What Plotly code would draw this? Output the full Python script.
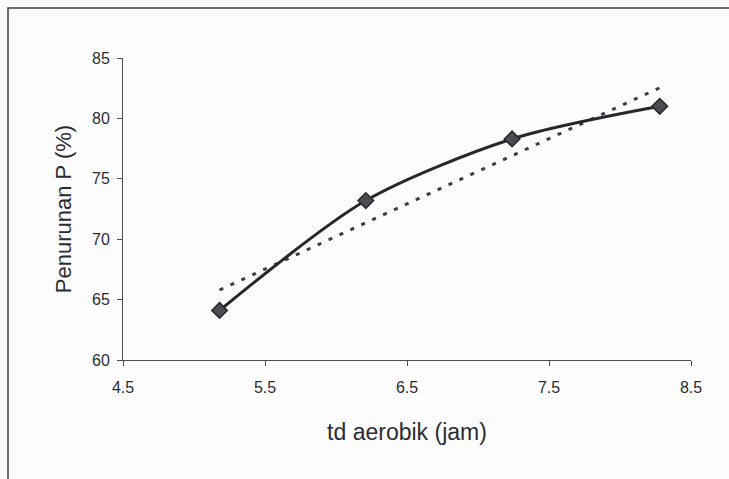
import numpy as np
import plotly.graph_objects as go

# Aerobic detention time (hours) vs phosphorus removal (%)
td_aerobik = [5.18, 6.21, 7.24, 8.28]
penurunan_p = [64.1, 73.2, 78.3, 81.0]

x_ticks = [4.5, 5.5, 6.5, 7.5, 8.5]
y_ticks = [60, 65, 70, 75, 80, 85]

# Linear trend through the measured points
slope, intercept = np.polyfit(td_aerobik, penurunan_p, 1)
trend_x = [td_aerobik[0], td_aerobik[-1]]
trend_y = [slope * v + intercept for v in trend_x]

fig = go.Figure()
fig.add_trace(go.Scatter(
    x=trend_x, y=trend_y, mode="lines",
    line=dict(color="#3a3d48", width=3, dash="4px,8px"),
    hoverinfo="skip", showlegend=False,
))
fig.add_trace(go.Scatter(
    x=td_aerobik, y=penurunan_p, mode="lines+markers",
    line=dict(color="#26282e", width=3, shape="spline", smoothing=0.8),
    marker=dict(symbol="diamond", size=12, color="#4a4c52",
                line=dict(color="#26282e", width=1.5)),
    showlegend=False,
))

text_color = "#2a2c34"
axis_font = dict(family="Liberation Sans, Arial, sans-serif", size=16, color=text_color)

fig.update_layout(
    width=729, height=479,
    margin=dict(l=123, r=38, t=58, b=119),
    paper_bgcolor="#fcfcfc", plot_bgcolor="#fcfcfc",
    font=axis_font,
    xaxis=dict(
        range=[4.5, 8.5], tickvals=x_ticks, ticktext=[str(v) for v in x_ticks],
        showgrid=False, zeroline=False, showline=True, linecolor="#4a4c58", linewidth=1,
        ticks="outside", ticklen=5, tickcolor="#4a4c58", ticklabelstandoff=8,
        title=dict(text="td aerobik (jam)", font=dict(size=23, color=text_color), standoff=28),
    ),
    yaxis=dict(
        range=[60, 85], tickvals=y_ticks,
        showgrid=False, zeroline=False, showline=True, linecolor="#4a4c58", linewidth=1,
        ticks="outside", ticklen=5, tickcolor="#4a4c58", ticklabelstandoff=4,
        title=dict(text="Penurunan P (%)", font=dict(size=22, color=text_color), standoff=14),
    ),
    shapes=[dict(
        type="rect", xref="paper", yref="paper",
        x0=-115 / 568, x1=1.2, y0=-0.6, y1=1 + 50 / 302,
        line=dict(color="#3c3e48", width=1.5), layer="below",
    )],
)

fig.write_html("out.html")
